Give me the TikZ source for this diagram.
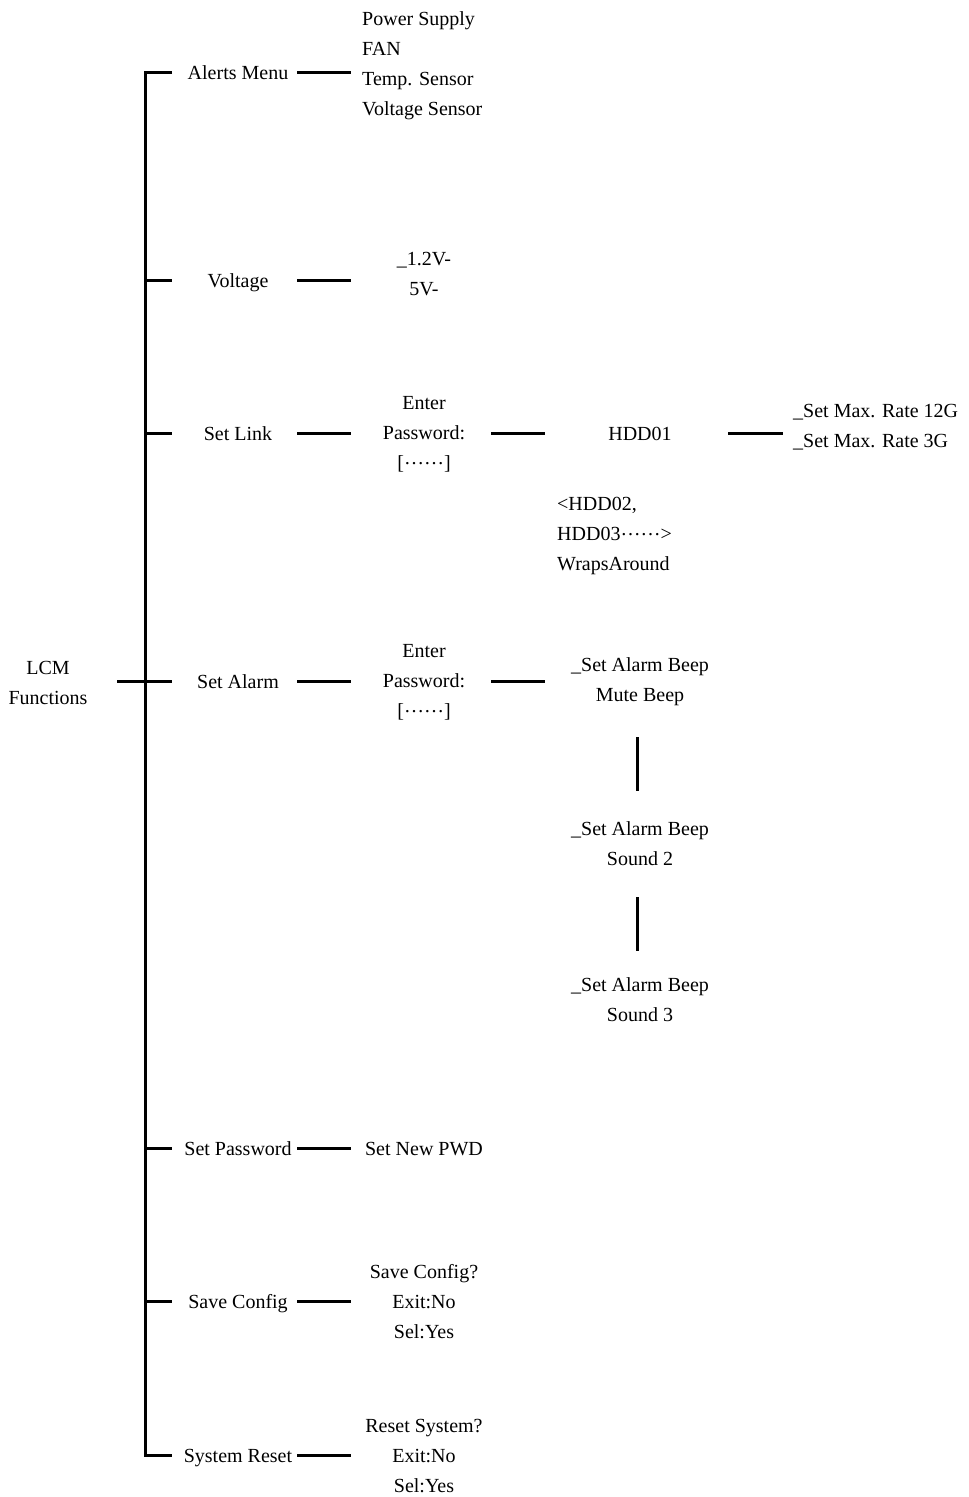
\documentclass[tikz,border=0pt]{standalone}
\usepackage{fontspec}
\setmainfont{Liberation Serif}
\begin{document}
\begin{tikzpicture}[x={(1pt,0)},y={(0,-1pt)},
  every node/.style={font=\fontsize{20}{30}\selectfont,inner sep=0pt,align=center},
  one/.style={text height=14pt,text depth=0pt},
  conn/.style={line width=3pt,line join=miter},
  lst/.style={align=left,anchor=west}]
\useasboundingbox (0,0) rectangle (969,1497);
% root
\node (lcm) at (48,683) {LCM\\Functions};
% branches
\node[one] (b1) at (238,72) {Alerts Menu};
\node[one] (b2) at (238,280) {Voltage};
\node[one] (b3) at (238,433) {Set Link};
\node[one] (b4) at (238,681) {Set Alarm};
\node[one] (b5) at (238,1148) {Set Password};
\node[one] (b6) at (238,1301) {Save Config};
\node[one] (b7) at (238,1455) {System Reset};
\coordinate (top) at (145,72);
\coordinate (bot) at (145,1455);
% level 3
\node[lst,inner xsep=11pt] (al) at (351,66) {Power Supply\\FAN\\Temp. Sensor\\Voltage Sensor};
\node (c2) at (424,274) {\_1.2V-\\5V-};
\node (c3) at (424,434) {Enter\\Password:\\{[}\raisebox{5pt}{……}{]}};
\node (c4) at (424,682) {Enter\\Password:\\{[}\raisebox{5pt}{……}{]}};
\node[one] (c5) at (424,1148) {Set New PWD};
\node (c6) at (424,1302) {Save Config?\\Exit:No\\Sel:Yes};
\node (c7) at (424,1456) {Reset System?\\Exit:No\\Sel:Yes};
% level 4
\node[one] (h1) at (640,433) {HDD01};
\node[lst,inner xsep=10pt] (rate) at (783,427) {\_Set Max. Rate 12G\\\_Set Max. Rate 3G};
\node[lst] (wrap) at (557,536) {<HDD02,\\HDD03\raisebox{5pt}{……}>\\WrapsAround};
\node (a1) at (640,682) {\_Set Alarm Beep\\Mute Beep};
\node (a2) at (640,844) {\_Set Alarm Beep\\Sound 2};
\node (a3) at (640,1000) {\_Set Alarm Beep\\Sound 3};
% connectors
\draw[conn] ([xshift=-66pt]b1.center) -- (top) -- (bot) -- ([xshift=-66pt]b7.center);
\foreach \b in {b2,b3,b5,b6}
  \draw[conn] (top |- \b.center) -- ([xshift=-66pt]\b.center);
\draw[conn,shorten <=69pt,shorten >=66pt] (lcm.center |- b4.center) -- (b4.center);
\draw[conn,shorten <=59pt] (b1.center) -- (b1.center -| al.west);
\foreach \b/\c in {b2/c2,b3/c3,b4/c4,b5/c5,b6/c6,b7/c7}
  \draw[conn,shorten <=59pt,shorten >=73pt] (\b.center) -- (\b.center -| \c.center);
\draw[conn,shorten <=67pt,shorten >=95pt] (b3.center -| c3.center) -- (h1.center);
\draw[conn,shorten <=88pt] (h1.center) -- (h1.center -| rate.west);
\draw[conn,shorten <=67pt,shorten >=95pt] (b4.center -| c4.center) -- (b4.center -| a1.center);
\draw[conn,shorten <=55pt,shorten >=53pt] ([xshift=-3pt]a1.center) -- ([xshift=-3pt]a2.center);
\draw[conn,shorten <=53pt,shorten >=49pt] ([xshift=-3pt]a2.center) -- ([xshift=-3pt]a3.center);
\end{tikzpicture}
\end{document}
